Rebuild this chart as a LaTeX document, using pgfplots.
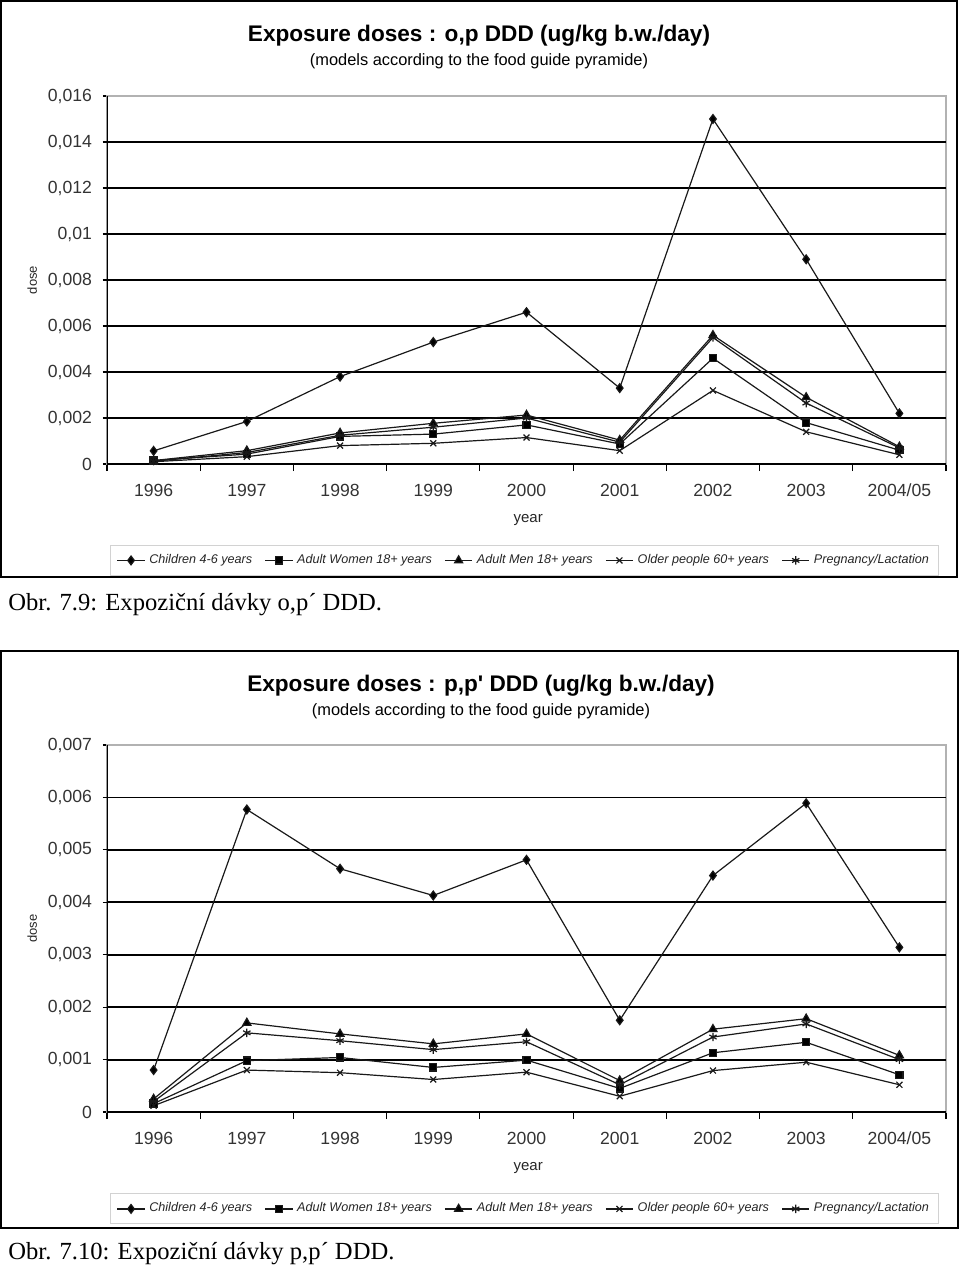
\documentclass[border=0pt]{standalone}
\usepackage{fontspec}
\setmainfont{Liberation Sans}
\newfontfamily\serif{Liberation Serif}
\usepackage{pgfplots}
\usepackage{pgfplotstable}
\pgfplotsset{compat=1.18}

% o,p DDD
\pgfplotstableread{
x ch wo me ol pr
0 0.00057 0.00015 0.00015 0.00010 0.00012
1 0.00185 0.00043 0.00058 0.00032 0.00050
2 0.0038 0.0012 0.00135 0.00080 0.00125
3 0.0053 0.0013 0.00177 0.00090 0.0016
4 0.0066 0.0017 0.00213 0.00115 0.0020
5 0.0033 0.00087 0.00104 0.00058 0.00095
6 0.0150 0.0046 0.0056 0.0032 0.0055
7 0.0089 0.0018 0.0029 0.0014 0.00265
8 0.0022 0.0006 0.00075 0.0004 0.0007
}\opddd

% p,p' DDD
\pgfplotstableread{
x ch wo me ol pr
0 0.0008 0.00016 0.00025 0.00012 0.00020
1 0.00577 0.00098 0.00170 0.00080 0.00151
2 0.00464 0.00104 0.00149 0.00075 0.00136
3 0.00413 0.00085 0.00130 0.00062 0.00119
4 0.00481 0.00099 0.00149 0.00076 0.00134
5 0.00175 0.00045 0.00060 0.00030 0.00052
6 0.00451 0.00113 0.00158 0.00079 0.00143
7 0.00589 0.00133 0.00178 0.00095 0.00168
8 0.00314 0.00071 0.00108 0.00052 0.00100
}\ppddd

\pgfplotsset{
  ddd/.style={
    width=419.5pt, scale only axis,
    xmin=-0.5, xmax=8.5, ymin=0,
    scaled y ticks=false,
    xtick={0,...,8},
    xticklabels={1996,1997,1998,1999,2000,2001,2002,2003,2004/05},
    minor xtick={-0.5,0.5,...,8.5},
    xtick pos=bottom, ytick pos=left,
    major x tick style={draw=none},
    tick align=outside,
    major tick length=2pt, minor tick length=3.5pt,
    tick style={black, line width=0.6pt},
    axis line style={draw=gray!60, line width=0.6pt},
    ticklabel style={font=\fontsize{8.8}{10}\selectfont, text=black!80},
    xticklabel style={yshift=-4.5pt},
    yticklabel style={xshift=-2pt},
    extra y tick labels={},
    extra y tick style={ymajorgrids=true, major grid style={black, line width=0.95pt}},
    every axis plot/.append style={black!90, line width=0.6pt, mark options={solid, fill=black}},
    legend columns=5,
    legend style={draw=gray!35, line width=0.5pt,
      font=\fontsize{6.3}{7.5}\selectfont\itshape, text=black!85,
      inner xsep=3pt, inner ysep=2.5pt,
      /tikz/every even column/.append style={column sep=4.2pt}},
    legend image code/.code={\draw[mark repeat=2,mark phase=2] plot coordinates {(0cm,0cm) (0.24cm,0cm) (0.48cm,0cm)};},
    xlabel={year},
    xlabel style={at={(axis description cs:0.502,-0.152)}, anchor=center, font=\fontsize{7.5}{9}\selectfont, text=black!85},
    ylabel={dose},
    ylabel style={at={(axis description cs:-0.089,0.5)}, anchor=center, font=\fontsize{6.5}{8}\selectfont, text=black!85},
  },
  mch/.style={mark=diamond*, mark size=2.2pt},
  mwo/.style={mark=square*, mark size=1.8pt},
  mme/.style={mark=triangle*, mark size=2.3pt},
  mol/.style={mark=x, mark size=2.1pt},
  mpr/.style={mark=asterisk, mark size=2.1pt},
}

\begin{document}
\begin{tikzpicture}
\useasboundingbox (0pt,0pt) rectangle (480pt,-634pt);

% ---------- chart 1 ----------
\draw[line width=1pt] (0.5pt,-0.5pt) rectangle (478.5pt,-288.5pt);
\node[font=\bfseries\fontsize{11.3}{13}\selectfont] at (239.5pt,-18pt) {Exposure doses : o,p DDD (ug/kg b.w./day)};
\node[font=\fontsize{8.2}{10}\selectfont] at (239.5pt,-30.5pt) {(models according to the food guide pyramide)};

\begin{axis}[ddd, at={(53.5pt,-232pt)}, anchor=south west, height=184pt,
  ymax=0.016,
  ytick={0,0.002,0.004,0.006,0.008,0.010,0.012,0.014,0.016},
  yticklabels={0,{0,002},{0,004},{0,006},{0,008},{0,01},{0,012},{0,014},{0,016}},
  extra y ticks={0.002,0.004,0.006,0.008,0.010,0.012,0.014},
  legend style={at={(0.498,-0.262)}, anchor=center}]
\addplot[mch] table[x=x, y=ch] {\opddd};
\addlegendentry{Children 4-6 years}
\addplot[mwo] table[x=x, y=wo] {\opddd};
\addlegendentry{Adult Women 18+ years}
\addplot[mme] table[x=x, y=me] {\opddd};
\addlegendentry{Adult Men 18+ years}
\addplot[mol] table[x=x, y=ol] {\opddd};
\addlegendentry{Older people 60+ years}
\addplot[mpr] table[x=x, y=pr] {\opddd};
\addlegendentry{Pregnancy/Lactation}
\draw[black, line width=0.6pt] (rel axis cs:0,1) -- (rel axis cs:0,0) -- (rel axis cs:1,0);
\end{axis}

\node[anchor=base west, inner sep=0pt, font=\serif\fontsize{12.3}{14}\selectfont] at (4pt,-305pt) {Obr. 7.9: Expoziční dávky o,p´ DDD.};

% ---------- chart 2 ----------
\draw[line width=1pt] (0.5pt,-325.5pt) rectangle (479pt,-614pt);
\node[font=\bfseries\fontsize{11.3}{13}\selectfont] at (240.5pt,-343pt) {Exposure doses : p,p\textquotesingle{} DDD (ug/kg b.w./day)};
\node[font=\fontsize{8.2}{10}\selectfont] at (240.5pt,-355.5pt) {(models according to the food guide pyramide)};

\begin{axis}[ddd, at={(53.5pt,-556pt)}, anchor=south west, height=183.5pt,
  ymax=0.007,
  ytick={0,0.001,0.002,0.003,0.004,0.005,0.006,0.007},
  yticklabels={0,{0,001},{0,002},{0,003},{0,004},{0,005},{0,006},{0,007}},
  extra y ticks={0.001,0.002,0.003,0.004,0.005,0.006},
  legend style={at={(0.498,-0.264)}, anchor=center}]
\addplot[mch] table[x=x, y=ch] {\ppddd};
\addlegendentry{Children 4-6 years}
\addplot[mwo] table[x=x, y=wo] {\ppddd};
\addlegendentry{Adult Women 18+ years}
\addplot[mme] table[x=x, y=me] {\ppddd};
\addlegendentry{Adult Men 18+ years}
\addplot[mol] table[x=x, y=ol] {\ppddd};
\addlegendentry{Older people 60+ years}
\addplot[mpr] table[x=x, y=pr] {\ppddd};
\addlegendentry{Pregnancy/Lactation}
\draw[black, line width=0.6pt] (rel axis cs:0,1) -- (rel axis cs:0,0) -- (rel axis cs:1,0);
\end{axis}

\node[anchor=base west, inner sep=0pt, font=\serif\fontsize{12.3}{14}\selectfont] at (4pt,-629.5pt) {Obr. 7.10: Expoziční dávky p,p´ DDD.};
\end{tikzpicture}
\end{document}
